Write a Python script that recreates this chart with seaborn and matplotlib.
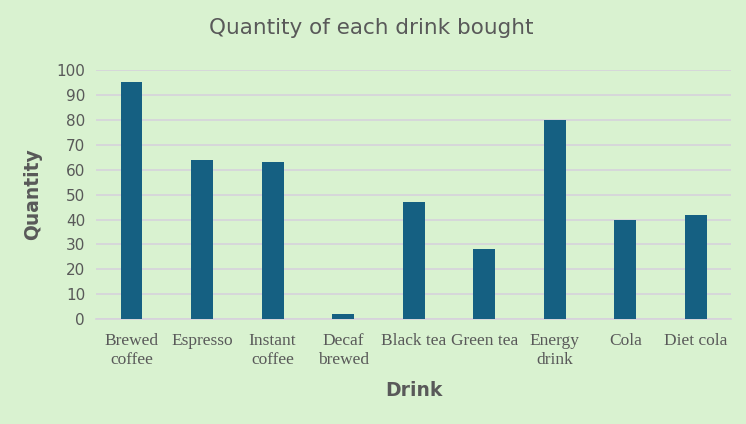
import seaborn as sns
import matplotlib.pyplot as plt
import pandas as pd

drinks = ['Brewed\ncoffee', 'Espresso', 'Instant\ncoffee', 'Decaf\nbrewed', 'Black tea',
          'Green tea', 'Energy\ndrink', 'Cola', 'Diet cola']
quantity = [95, 64, 63, 2, 47, 28, 80, 40, 42]
yticks = [0, 10, 20, 30, 40, 50, 60, 70, 80, 90, 100]

bg = '#d9f2d0'
df = pd.DataFrame({'Drink': drinks, 'Quantity': quantity})

sns.set_style('white')
f, ax = plt.subplots(figsize=[7.46, 4.24], dpi=100)
f.patch.set_facecolor(bg)
ax.set_facecolor(bg)

sns.barplot(data=df, x='Drink', y='Quantity', color='#156082', width=0.31,
            saturation=1, ax=ax, zorder=3, linewidth=0, edgecolor='none')

ax.set_ylim(0, 100)
ax.set_yticks(yticks)
ax.set_xlim(-0.5, len(drinks) - 0.5)
ax.yaxis.grid(True, color='#d6d2dc', linewidth=1.2, zorder=0)
for s in ['top', 'right', 'left']:
    ax.spines[s].set_visible(False)
ax.spines['bottom'].set_color('#d6d2dc')
ax.spines['bottom'].set_linewidth(1.2)
ax.tick_params(axis='both', length=0)
ax.tick_params(axis='y', labelsize=11, labelcolor='#595959', pad=8)
for lbl in ax.get_xticklabels():
    lbl.set_fontfamily('Liberation Serif')
    lbl.set_fontsize(12.5)
    lbl.set_color('#595959')
    lbl.set_linespacing(1.25)
ax.tick_params(axis='x', pad=10)

f.text(0.497, 1 - 28 / 424, 'Quantity of each drink bought', fontsize=15.5,
       color='#595959', ha='center', va='center')
ax.set_xlabel('Drink', fontsize=13.5, fontweight='bold', color='#595959', labelpad=9)
ax.set_ylabel('Quantity', fontsize=13.5, fontweight='bold', color='#595959', labelpad=10)

plt.subplots_adjust(left=0.129, right=0.98, top=0.835, bottom=0.247)
f.savefig('out.png', facecolor=bg)
